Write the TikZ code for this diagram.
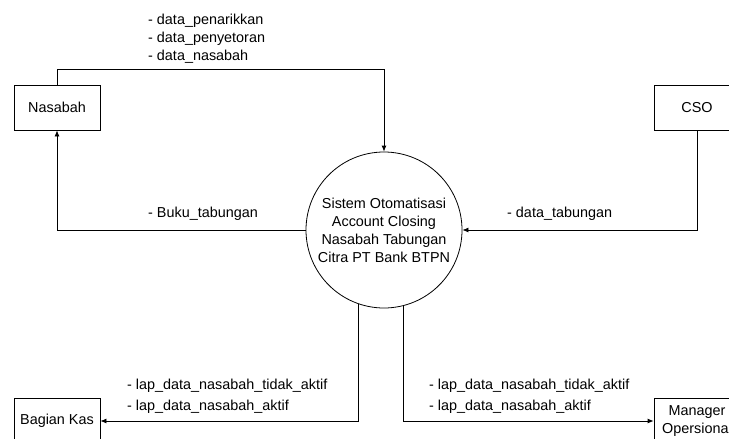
\documentclass[tikz,border=0pt]{standalone}
\usepackage{fontspec}
\setmainfont{Liberation Sans}
\usetikzlibrary{arrows.meta}
\begin{document}
\begin{tikzpicture}[x=1pt,y=-1pt,
    font=\fontsize{14.4}{18}\selectfont,
    entity/.style={draw,line width=0.8pt,minimum width=86pt,minimum height=45pt,align=center},
    process/.style={draw,circle,line width=0.8pt,minimum size=156pt,inner sep=0pt,align=center},
    flow/.style={line width=0.8pt,-{Latex[length=6pt,width=5pt]}},
    lbl/.style={anchor=west,inner sep=0pt,align=left}]
  \clip (0,0) rectangle (729,439);
  \node[entity] (nasabah) at (57,107.5) {Nasabah};
  \node[entity] (cso) at (697,107.5) {CSO};
  \node[entity] (kas) at (57,421) {Bagian Kas};
  \node[entity] (manager) at (697,421) {Manager\\Opersional};
  \node[process] (sistem) at (384,230) {Sistem Otomatisasi\\Account Closing\\Nasabah Tabungan\\Citra PT Bank BTPN};
  \begin{scope}
    \draw[flow] (nasabah.north) -- ++(0,-15) -| (sistem.north);
    \draw[flow] (sistem.west) -| (nasabah.south);
    \draw[flow] (cso.south) |- (sistem.east);
    \draw[flow] (sistem.251.3) |- (kas.east);
    \draw[flow] (sistem.284.1) |- (manager.west);
  \end{scope}
  \node[lbl] (lblmasuk) at (148,39) {- data\_penarikkan\\- data\_penyetoran\\- data\_nasabah};
  \node[lbl] (lblbuku) at (148,214) {- Buku\_tabungan};
  \node[lbl] (lbltabungan) at (507,214) {- data\_tabungan};
  \node[lbl,font=\fontsize{14.4}{21}\selectfont] (lblkas) at (127,396) {- lap\_data\_nasabah\_tidak\_aktif\\- lap\_data\_nasabah\_aktif};
  \node[lbl,font=\fontsize{14.4}{21}\selectfont] (lblmanager) at (429,396) {- lap\_data\_nasabah\_tidak\_aktif\\- lap\_data\_nasabah\_aktif};
\end{tikzpicture}
\end{document}
